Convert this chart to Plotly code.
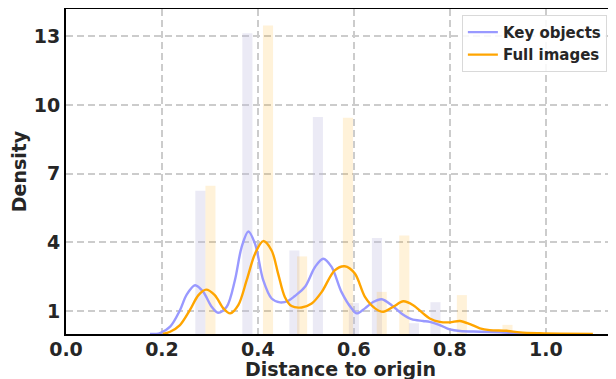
import plotly.graph_objects as go

# Histogram bars (bin centres, density)
key_bar_x = [0.280, 0.378, 0.476, 0.525, 0.600, 0.648, 0.725, 0.770]
key_bar_y = [6.26, 13.14, 3.65, 9.48, 1.35, 4.19, 0.47, 1.39]
full_bar_x = [0.301, 0.421, 0.492, 0.5875, 0.658, 0.705, 0.825, 0.920]
full_bar_y = [6.48, 13.48, 3.39, 9.45, 1.84, 4.30, 1.70, 0.40]

# KDE curves
key_kde_x = [0.175, 0.196, 0.217, 0.2375, 0.251, 0.269, 0.286, 0.3035, 0.317, 0.335,
             0.352, 0.366, 0.380, 0.394, 0.411, 0.4285, 0.446, 0.463, 0.477, 0.498,
             0.519, 0.536, 0.5535, 0.574, 0.595, 0.606, 0.623, 0.640, 0.658, 0.6785,
             0.699, 0.720, 0.744, 0.758, 0.779, 0.800, 0.821, 0.8625, 0.904, 0.946, 0.9875]
key_kde_y = [0.0, 0.04, 0.32, 1.04, 1.70, 2.13, 1.84, 1.19, 0.93, 1.19,
             2.35, 3.80, 4.48, 3.94, 2.35, 1.55, 1.38, 1.45, 1.66, 2.06,
             2.93, 3.29, 2.93, 1.84, 1.12, 0.90, 1.12, 1.40, 1.52, 1.26,
             0.90, 0.65, 0.57, 0.53, 0.39, 0.20, 0.13, 0.10, 0.07, 0.03, 0.01]
full_kde_x = [0.202, 0.217, 0.2375, 0.258, 0.276, 0.292, 0.310, 0.328, 0.342, 0.359,
              0.3765, 0.394, 0.411, 0.4285, 0.442, 0.456, 0.470, 0.491, 0.512, 0.533,
              0.560, 0.581, 0.602, 0.623, 0.644, 0.661, 0.682, 0.703, 0.7235, 0.744,
              0.758, 0.779, 0.800, 0.821, 0.842, 0.8625, 0.883, 0.918, 0.946, 0.9875,
              1.029, 1.098]
full_kde_y = [0.0, 0.10, 0.39, 1.04, 1.70, 1.94, 1.70, 1.12, 0.90, 1.26,
              2.35, 3.51, 4.06, 3.65, 2.64, 1.62, 1.22, 1.16, 1.33, 1.84,
              2.78, 2.96, 2.64, 1.62, 1.12, 0.97, 1.19, 1.43, 1.26, 0.90,
              0.68, 0.53, 0.51, 0.57, 0.43, 0.25, 0.17, 0.14, 0.07, 0.03,
              0.01, 0.0]

x_ticks = [0.0, 0.2, 0.4, 0.6, 0.8, 1.0]
y_ticks = [1, 4, 7, 10, 13]

key_color = "#9999ff"
full_color = "#ffa500"
txt = "#262626"
bold = dict(family="DejaVu Sans", weight="bold", color=txt)

fig = go.Figure()
fig.add_trace(go.Bar(x=key_bar_x, y=key_bar_y, width=0.021,
                     marker=dict(color="rgba(188,185,222,0.3)", line=dict(width=0)),
                     showlegend=False, hoverinfo="skip"))
fig.add_trace(go.Bar(x=full_bar_x, y=full_bar_y, width=0.021,
                     marker=dict(color="rgba(255,165,0,0.15)", line=dict(width=0)),
                     showlegend=False, hoverinfo="skip"))
fig.add_trace(go.Scatter(x=key_kde_x, y=key_kde_y, mode="lines", name="Key objects",
                         line=dict(color=key_color, width=2.4, shape="spline", smoothing=0.9)))
fig.add_trace(go.Scatter(x=full_kde_x, y=full_kde_y, mode="lines", name="Full images",
                         line=dict(color=full_color, width=2.4, shape="spline", smoothing=0.9)))

grid = dict(showgrid=True, gridcolor="#cccccc", gridwidth=1.5, griddash="7px,4px",
            showline=True, linecolor="black", linewidth=2, mirror=True,
            ticks="", zeroline=False, automargin=False)

fig.update_layout(
    width=608, height=371,
    margin=dict(l=58, r=2, t=1, b=45, autoexpand=False),
    paper_bgcolor="white", plot_bgcolor="white",
    barmode="overlay",
    legend=dict(x=0.987, y=0.982, xanchor="right", yanchor="top",
                bgcolor="rgba(255,255,255,0.85)", bordercolor="#d9d9d9", borderwidth=1,
                font=dict(size=15, **bold), itemwidth=30, tracegroupgap=0),
    xaxis=dict(range=[0, 1.142], tickvals=x_ticks, ticktext=[f"{v:.1f}" for v in x_ticks],
               tickfont=dict(size=19, **bold), ticklabelstandoff=-3, **grid),
    yaxis=dict(range=[0, 14.2], tickvals=y_ticks,
               tickfont=dict(size=19, **bold),
               title=dict(text="Density", font=dict(size=19, **bold), standoff=2),
               **grid),
    annotations=[dict(text="Distance to origin", xref="paper", yref="paper",
                      x=0.5, y=-0.068, xanchor="center", yanchor="top",
                      showarrow=False, font=dict(size=19, **bold))],
)

fig.write_html("out.html")
